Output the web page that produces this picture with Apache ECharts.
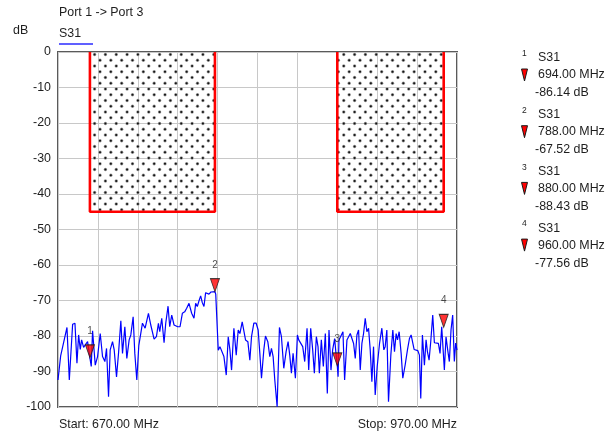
<!DOCTYPE html>
<html>
<head>
<meta charset="utf-8">
<script src="https://cdn.jsdelivr.net/npm/echarts@6/dist/echarts.min.js"></script>
<style>
html,body{margin:0;padding:0;background:#fff;}
#chart{width:616px;height:440px;}
</style>
</head>
<body>
<div id="chart"></div>
<script>
// ---- Data ----
const traceName = 'S31';
const titleText = 'Port 1 -> Port 3';
const startFreq = 670;
const stopFreq = 970;
const yTickMin = -100;
const yTickMax = 0;
const yTickStep = 10;

const freqs = [
 670, 672, 673.5, 676.75, 678.5, 681, 682.75, 684.25, 685.5, 686.75, 687.75, 689.25, 690.5, 692.25, 693.5, 694,
 695, 696, 698, 699.75, 701.75, 703.5, 705.25, 706.5, 708, 709.25, 711, 712.25, 714, 715.5, 717.25, 718.5,
 720.25, 721.75, 723.5, 724.75, 726.5, 727.75, 729.25, 730.75, 732, 733.5, 735.5, 736.75, 738, 739.75, 742.25, 744,
 745.5, 746.5, 748, 749.75, 751, 752.75, 754, 755.5, 757.25, 758.5, 760, 761.75, 763.5, 765.25, 766.75, 768.5,
 770.5, 772.25, 773.5, 774.75, 776, 777.25, 778.5, 779.75, 781, 782.25, 783.5, 785, 786.5, 788, 788.6, 790.5,
 791.75, 793, 794.75, 796.5, 798, 799.25, 800.5, 802.25, 804, 805.5, 806.75, 808.5, 809.75, 811, 812.75, 814.25,
 815.5, 817.25, 819, 820.5, 821.75, 823, 824.75, 826, 827.75, 829.25, 830.5, 831.75, 833, 834.75, 836.5, 838,
 839.75, 841.5, 843, 844.25, 845.5, 846.75, 848.5, 850, 851, 852.5, 854, 855.5, 857.25, 858.5, 860, 861.5,
 862.75, 864.25, 865.5, 866.5, 868, 869.5, 871, 872.5, 873.75, 875.25, 876.5, 878, 879, 880, 880.6, 881.25,
 882.75, 884.25, 885.5, 887.25, 888.5, 889.75, 891, 892.25, 893.5, 894.75, 896, 897.25, 898.5, 899.75, 901, 902.25,
 903.5, 904.75, 906, 907.25, 908.5, 910, 911.75, 913.5, 915, 916, 917.25, 918.5, 920.25, 921.75, 923, 924.25,
 925.25, 926.5, 928, 929.25, 931, 932.75, 934.25, 935.5, 936.5, 937.75, 939.25, 940.5, 941.75, 942.75, 944, 945.5,
 946.75, 947.75, 949, 950.25, 951.75, 953, 954.5, 956, 957.25, 958.5, 960, 960.5, 961.75, 963, 964.25, 965.5,
 966.75, 968, 969, 970
];
const s31 = [
 -92.4, -85.6, -85.6, -77.6, -92.4, -76.7, -76.4, -87.7, -79.7, -83.8, -81.1, -83.2, -82.5, -81.6, -84.9, -86.14,
 -88.6, -78.5, -88.2, -85.8, -79.3, -85.8, -87.2, -83.5, -97.1, -83.9, -81.6, -83.9, -91.5, -84.9, -75.7, -84.9,
 -77.4, -86.3, -81.1, -79.7, -74.6, -84.9, -92.4, -82.7, -82.3, -76.4, -77.8, -78.3, -73.6, -76.9, -80.9, -80.2,
 -76.4, -78.8, -75.0, -81.9, -76.4, -71.6, -77.4, -74.1, -76.9, -76.6, -77.4, -77.4, -73.6, -73.2, -72.2, -70.8,
 -73.6, -75.0, -70.8, -71.7, -70.1, -68.7, -70.6, -71.7, -67.8, -68.0, -68.2, -67.6, -67.2, -67.52, -68.2, -84.0,
 -83.0, -82.5, -85.8, -91.0, -80.2, -83.9, -89.6, -77.8, -85.4, -78.3, -79.3, -76.0, -76.4, -81.1, -81.6, -86.8,
 -80.2, -76.4, -76.4, -78.3, -84.9, -91.9, -83.9, -80.0, -81.6, -85.8, -83.5, -85.8, -92.4, -99.9, -77.6, -80.2,
 -89.1, -84.4, -81.6, -85.4, -90.5, -84.9, -91.9, -79.7, -81.1, -80.7, -83.0, -87.2, -77.8, -89.6, -77.8, -83.9,
 -90.5, -80.2, -83.0, -90.5, -81.1, -88.6, -79.3, -96.2, -78.3, -89.6, -83.9, -80.7, -84.9, -88.43, -91.5, -81.1,
 -80.7, -78.8, -92.4, -81.1, -80.2, -79.3, -79.7, -82.1, -86.3, -79.7, -78.3, -89.6, -82.1, -79.3, -75.0, -78.8,
 -77.8, -83.9, -92.9, -83.0, -96.6, -88.6, -82.1, -77.8, -83.9, -83.0, -78.3, -98.5, -85.4, -78.3, -84.4, -79.3,
 -81.1, -78.8, -84.9, -91.9, -88.2, -83.9, -80.7, -79.7, -80.2, -83.8, -83.9, -84.1, -85.4, -97.6, -79.7, -88.2,
 -81.1, -84.4, -86.8, -81.6, -74.1, -81.9, -81.6, -82.1, -84.9, -77.4, -77.56, -89.6, -80.2, -83.9, -87.2, -78.3,
 -74.1, -87.2, -82.0, -84.0
];

const markerIds = ['1', '2', '3', '4'];
const markerFreqs = [694, 788, 880, 960];
const markerVals = [-86.14, -67.52, -88.43, -77.56];

const limitStarts = [694, 880];
const limitStops = [788, 960];
const limitLevel = -45;

// ---- Styles ----
const FONT = 'Liberation Sans, Arial, sans-serif';
const TEXT = '#1e1e1e';
const FS = '12.4px ';

function makeDotPattern() {
  const c = document.createElement('canvas');
  c.width = 65; c.height = 23;
  const ctx = c.getContext('2d');
  const dx = 65 / 6, dy = 23 / 4;
  for (let r = 0; r < 4; r++) {
    const off = (r % 2) * dx / 2;
    for (let k = -1; k < 7; k++) {
      const x = 2.5 + off + k * dx;
      const y = 2.8 + r * dy;
      ctx.fillStyle = '#9a9a9a';
      ctx.beginPath();
      ctx.arc(x, y, 1.7, 0, Math.PI * 2);
      ctx.fill();
      ctx.fillStyle = '#151515';
      ctx.beginPath();
      ctx.arc(x, y, 1.05, 0, Math.PI * 2);
      ctx.fill();
    }
  }
  return c;
}
const dotPattern = { image: makeDotPattern(), repeat: 'repeat' };

const chart = echarts.init(document.getElementById('chart'), null, { renderer: 'canvas' });

const limitSeries = limitStarts.map((a, i) => {
  const b = limitStops[i];
  return {
    type: 'line',
    xAxisIndex: 0,
    yAxisIndex: 0,
    data: [[a, yTickMax], [a, limitLevel], [b, limitLevel], [b, yTickMax]],
    symbol: 'none',
    lineStyle: { color: '#ff0000', width: 2.6 },
    silent: true,
    z: 3,
    markArea: {
      silent: true,
      itemStyle: { color: dotPattern },
      data: [[{ xAxis: a, yAxis: yTickMax }, { xAxis: b, yAxis: limitLevel }]]
    }
  };
});

const trace = {
  type: 'line',
  name: traceName,
  xAxisIndex: 0,
  yAxisIndex: 0,
  data: freqs.map((f, i) => [f, s31[i]]),
  symbol: 'none',
  lineStyle: { color: '#0000ff', width: 1.2 },
  silent: true,
  z: 4
};

const markerSeries = {
  type: 'scatter',
  xAxisIndex: 0,
  yAxisIndex: 0,
  data: markerFreqs.map((f, i) => ({ value: [f, markerVals[i]], name: markerIds[i] })),
  symbol: 'path://M0,0 L10,0 L5,18 Z',
  symbolSize: [9, 13],
  symbolOffset: [0, -6.5],
  itemStyle: { color: '#ff0000', borderColor: '#1a1a1a', borderWidth: 1 },
  label: {
    show: true,
    position: 'top',
    distance: 1,
    formatter: p => p.name,
    fontSize: 10,
    color: '#222',
    fontFamily: FONT,
    offset: [0, -7]
  },
  silent: true,
  z: 6
};

// legend on the right (marker readouts)
const legendGraphics = [];
markerIds.forEach((id, i) => {
  const top = 53 + i * 56.7;
  legendGraphics.push({ type: 'text', x: 522, y: top + 1, style: { text: id, font: '8.5px ' + FONT, fill: TEXT, textVerticalAlign: 'middle' } });
  legendGraphics.push({ type: 'text', x: 538, y: top + 5, style: { text: traceName, font: FS + FONT, fill: TEXT, textVerticalAlign: 'middle' } });
  legendGraphics.push({ type: 'polygon', shape: { points: [[521.5, top + 16], [527.5, top + 16], [524.5, top + 28]] }, style: { fill: '#ff0000', stroke: '#1a1a1a', lineWidth: 1 } });
  legendGraphics.push({ type: 'text', x: 538, y: top + 22, style: { text: markerFreqs[i].toFixed(2) + ' MHz', font: FS + FONT, fill: TEXT, textVerticalAlign: 'middle' } });
  legendGraphics.push({ type: 'text', x: 535, y: top + 40, style: { text: markerVals[i].toFixed(2) + ' dB', font: FS + FONT, fill: TEXT, textVerticalAlign: 'middle' } });
});

const option = {
  backgroundColor: '#ffffff',
  animation: false,
  grid: { left: 58, top: 52, width: 399, height: 355, show: true, borderColor: '#5a5a5a', borderWidth: 2, backgroundColor: 'transparent', containLabel: false },
  xAxis: [
    { type: 'value', min: startFreq, max: stopFreq, axisLine: { show: false }, axisTick: { show: false }, axisLabel: { show: false }, splitLine: { show: false } },
    { type: 'value', min: 0, max: 10, interval: 1, position: 'top', axisLine: { show: false }, axisTick: { show: false }, axisLabel: { show: false },
      splitLine: { show: true, lineStyle: { color: '#c8c8c8', width: 1 } } }
  ],
  yAxis: [{
    type: 'value', min: yTickMin, max: yTickMax, interval: yTickStep,
    axisLine: { show: false }, axisTick: { show: false },
    axisLabel: { fontSize: 12.4, color: TEXT, margin: 7, fontFamily: FONT },
    splitLine: { show: true, lineStyle: { color: '#c8c8c8', width: 1 } }
  }],
  series: [...limitSeries, trace, markerSeries],
  graphic: [
    { type: 'text', x: 59, y: 13, style: { text: titleText, font: FS + FONT, fill: TEXT, textVerticalAlign: 'middle' } },
    { type: 'text', x: 13, y: 31, style: { text: 'dB', font: FS + FONT, fill: TEXT, textVerticalAlign: 'middle' } },
    { type: 'text', x: 59, y: 34, style: { text: traceName, font: FS + FONT, fill: TEXT, textVerticalAlign: 'middle' } },
    { type: 'line', shape: { x1: 59, y1: 44, x2: 93, y2: 44 }, style: { stroke: '#6060ff', lineWidth: 2 } },
    { type: 'text', x: 59, y: 425, style: { text: 'Start: ' + startFreq.toFixed(2) + ' MHz', font: FS + FONT, fill: TEXT, textVerticalAlign: 'middle' } },
    { type: 'text', x: 457, y: 425, style: { text: 'Stop: ' + stopFreq.toFixed(2) + ' MHz', font: FS + FONT, fill: TEXT, textVerticalAlign: 'middle', textAlign: 'right' } },
    ...legendGraphics
  ]
};
chart.setOption(option);
</script>
</body>
</html>
